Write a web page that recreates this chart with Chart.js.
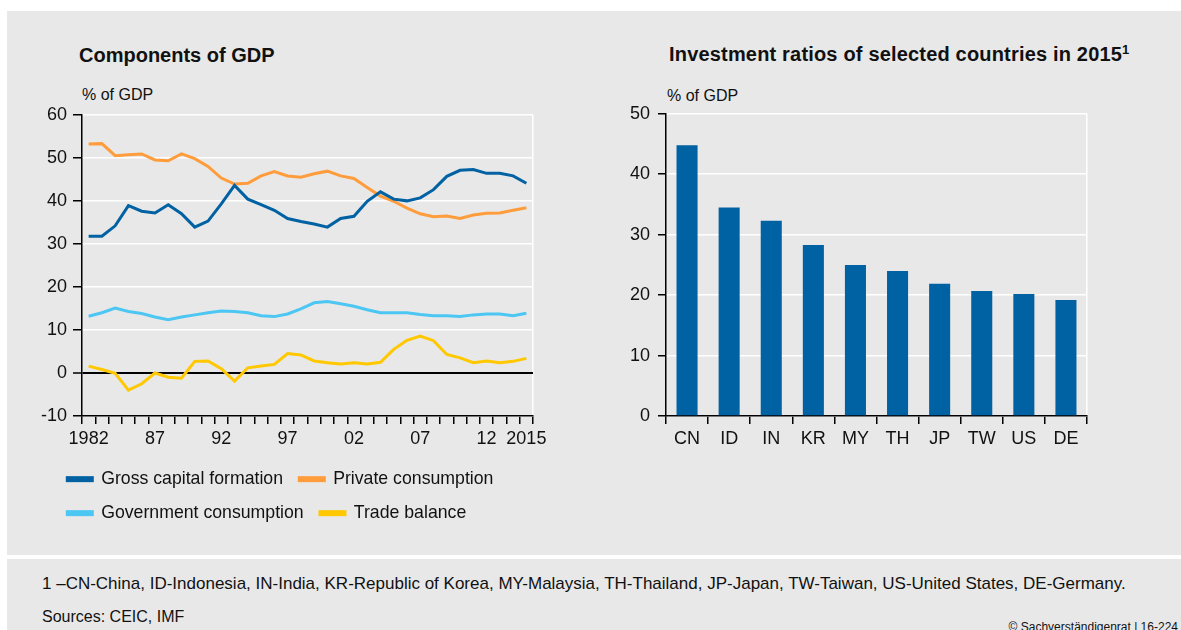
<!DOCTYPE html>
<html>
<head>
<meta charset="utf-8">
<script src="https://cdn.jsdelivr.net/npm/chart.js@4.4.0/dist/chart.umd.min.js"></script>
<style>
body { margin: 0; width: 1181px; height: 630px; background: #fff; font-family: "Liberation Sans", Arial, sans-serif; color: #111; position: relative; overflow: hidden; }
.panel { position: absolute; background: #e8e8e8; }
.t { position: absolute; white-space: nowrap; }
canvas { position: absolute; }
sup { font-size: 13px; vertical-align: 7px; line-height: 0; }
</style>
</head>
<body>
<div class="panel" style="left:7px;top:11px;width:1174px;height:544px"></div>
<div class="panel" style="left:7px;top:559px;width:1174px;height:71px"></div>

<div class="t" style="left:79px;top:45px;font-size:20px;line-height:20px;font-weight:bold">Components of GDP</div>
<div class="t" style="left:82px;top:87px;font-size:16px;line-height:16px">% of GDP</div>
<div class="t" style="left:669px;top:44px;font-size:20px;line-height:20px;font-weight:bold;letter-spacing:0.18px">Investment ratios of selected countries in 2015<sup>1</sup></div>
<div class="t" style="left:667px;top:88px;font-size:16px;line-height:16px">% of GDP</div>

<canvas id="lineChart" width="560" height="434" style="left:0px;top:98px"></canvas>
<canvas id="barChart" width="507" height="361" style="left:600px;top:95px"></canvas>

<div class="t" style="left:42px;top:575px;font-size:17px;line-height:17px">1 –CN-China, ID-Indonesia, IN-India, KR-Republic of Korea, MY-Malaysia, TH-Thailand, JP-Japan, TW-Taiwan, US-United States, DE-Germany.</div>
<div class="t" style="left:42px;top:609px;font-size:16px;line-height:16px">Sources: CEIC, IMF</div>
<div class="t" style="right:3px;top:621px;font-size:12px;line-height:12px">© Sachverständigenrat | 16-224</div>

<script>
const years = ['1982', '1983', '1984', '1985', '1986', '1987', '1988', '1989', '1990', '1991',
    '1992', '1993', '1994', '1995', '1996', '1997', '1998', '1999', '2000', '2001',
    '2002', '2003', '2004', '2005', '2006', '2007', '2008', '2009', '2010', '2011',
    '2012', '2013', '2014', '2015'];
const yearTicks = { '1982': '1982', '1987': '87', '1992': '92', '1997': '97', '2002': '02', '2007': '07', '2012': '12', '2015': '2015' };

const grossCapital = [31.8, 31.8, 34.2, 38.9, 37.6, 37.2, 39.1, 37.0, 33.9, 35.3,
    39.3, 43.6, 40.4, 39.1, 37.8, 35.9, 35.2, 34.6, 33.9, 35.9,
    36.4, 39.9, 42.1, 40.4, 40.0, 40.7, 42.6, 45.7, 47.1, 47.3,
    46.4, 46.4, 45.8, 44.1];
const privateCons = [53.2, 53.3, 50.5, 50.7, 50.9, 49.5, 49.3, 50.9, 49.8, 48.0,
    45.3, 43.9, 44.1, 45.8, 46.8, 45.8, 45.5, 46.3, 46.9, 45.8,
    45.2, 43.1, 41.1, 39.9, 38.3, 37.0, 36.3, 36.5, 35.9, 36.7,
    37.1, 37.2, 37.8, 38.4];
const govCons = [13.2, 14.0, 15.1, 14.3, 13.8, 13.0, 12.4, 13.0, 13.5, 14.0,
    14.4, 14.3, 14.0, 13.3, 13.1, 13.7, 14.9, 16.3, 16.6, 16.1,
    15.5, 14.7, 14.0, 14.0, 14.0, 13.6, 13.3, 13.3, 13.1, 13.5,
    13.7, 13.7, 13.3, 13.9];
const tradeBalance = [1.6, 0.8, -0.1, -4.0, -2.5, 0.0, -1.0, -1.2, 2.7, 2.8,
    1.0, -1.9, 1.2, 1.6, 2.0, 4.5, 4.2, 2.8, 2.4, 2.1,
    2.4, 2.1, 2.5, 5.5, 7.6, 8.6, 7.5, 4.3, 3.5, 2.4,
    2.8, 2.4, 2.7, 3.4];

const countries = ['CN', 'ID', 'IN', 'KR', 'MY', 'TH', 'JP', 'TW', 'US', 'DE'];
const investRatio = [44.8, 34.5, 32.3, 28.3, 25.0, 24.0, 21.9, 20.7, 20.2, 19.2];

const BLUE = '#0061a3';
const ORANGE = '#ff9c3b';
const LIGHTBLUE = '#4cc6f2';
const YELLOW = '#ffc800';
const TEXT = '#111';

Chart.defaults.font.family = '"Liberation Sans", Arial, sans-serif';
Chart.defaults.color = TEXT;

// legend sits further right than the y axis box, nudge it after layout
const legendShift = {
    id: 'legendShift',
    afterLayout(chart) {
        chart.legend.left += 16;
    }
};

new Chart(document.getElementById('lineChart'), {
    type: 'line',
    data: {
        labels: years,
        datasets: [
            { label: 'Gross capital formation', data: grossCapital, borderColor: BLUE, backgroundColor: BLUE },
            { label: 'Private consumption', data: privateCons, borderColor: ORANGE, backgroundColor: ORANGE },
            { label: 'Government consumption', data: govCons, borderColor: LIGHTBLUE, backgroundColor: LIGHTBLUE },
            { label: 'Trade balance', data: tradeBalance, borderColor: YELLOW, backgroundColor: YELLOW }
        ]
    },
    options: {
        responsive: false,
        animation: false,
        layout: { padding: { left: 35, right: 27, top: 0, bottom: 0 } },
        elements: {
            line: { borderWidth: 3, tension: 0 },
            point: { radius: 0 }
        },
        plugins: {
            legend: {
                position: 'bottom',
                align: 'start',
                labels: { boxWidth: 25, boxHeight: 3, padding: 16.3, font: { size: 17.7 }, color: TEXT }
            },
            tooltip: { enabled: false }
        },
        scales: {
            x: {
                offset: true,
                grid: {
                    offset: true,
                    color: c => c.type === 'scale' ? '#fff' : 'rgba(0,0,0,0)',
                    lineWidth: 1.5,
                    tickColor: '#000',
                    tickLength: 8,
                    tickWidth: 1.5
                },
                border: { color: '#000', width: 1.5 },
                ticks: {
                    autoSkip: false,
                    maxRotation: 0,
                    padding: 4,
                    font: { size: 18 },
                    callback: (v, i) => yearTicks[years[i]] || ''
                },
                afterFit: s => { s.height = 38; }
            },
            y: {
                min: -10,
                max: 60,
                ticks: { stepSize: 10, padding: 6, font: { size: 18 }, callback: v => String(v) },
                grid: {
                    color: c => c.tick && c.tick.value === 0 ? '#000' : '#fff',
                    lineWidth: c => c.tick && c.tick.value === 0 ? 2 : 1.5,
                    tickColor: '#000',
                    tickLength: 9,
                    tickWidth: 1.5
                },
                border: { color: '#000', width: 1.5 },
                afterFit: s => { s.width = 47; }
            }
        }
    },
    plugins: [legendShift]
});

new Chart(document.getElementById('barChart'), {
    type: 'bar',
    data: {
        labels: countries,
        datasets: [{
            label: 'Investment ratio',
            data: investRatio,
            backgroundColor: BLUE,
            barPercentage: 0.5,
            categoryPercentage: 1
        }]
    },
    options: {
        responsive: false,
        animation: false,
        layout: { padding: { left: 0, right: 20, top: 0, bottom: 0 } },
        plugins: {
            legend: { display: false },
            tooltip: { enabled: false }
        },
        scales: {
            x: {
                grid: {
                    offset: true,
                    color: c => c.type === 'scale' ? '#fff' : 'rgba(0,0,0,0)',
                    lineWidth: 1.5,
                    tickColor: '#000',
                    tickLength: 8,
                    tickWidth: 1.5
                },
                border: { color: '#000', width: 1.5 },
                ticks: { padding: 4, font: { size: 18 } },
                afterFit: s => { s.height = 40; }
            },
            y: {
                min: 0,
                max: 50,
                ticks: { stepSize: 10, padding: 8, font: { size: 18 } },
                grid: { color: '#fff', lineWidth: 1.5, tickColor: '#000', tickLength: 8, tickWidth: 1.5 },
                border: { color: '#000', width: 1.5 },
                afterFit: s => { s.width = 66; }
            }
        }
    }
});
</script>
</body>
</html>
